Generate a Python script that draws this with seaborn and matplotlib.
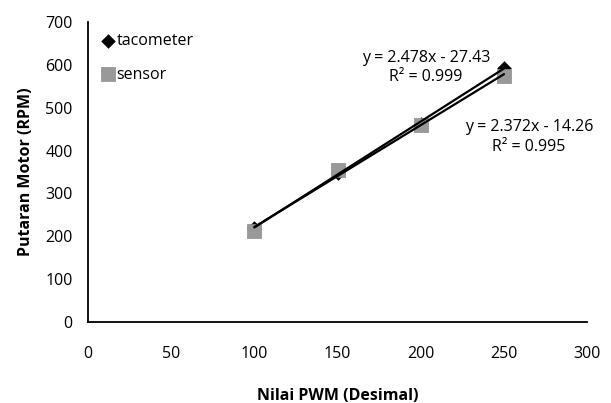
import matplotlib
matplotlib.use("Agg")
import matplotlib.pyplot as plt
import seaborn as sns
import pandas as pd

pwm = [100, 150, 200, 250]
tacometer = [220, 348, 463, 594]
sensor = [213, 354, 460, 574]
eq_taco = "y = 2.478x - 27.43\nR² = 0.999"
eq_sensor = "y = 2.372x - 14.26\nR² = 0.995"

sns.set_style("white")
plt.rcParams['font.family'] = ['Open Sans', 'DejaVu Sans']

df_t = pd.DataFrame({"pwm": pwm, "rpm": tacometer})
df_s = pd.DataFrame({"pwm": pwm, "rpm": sensor})

fig = plt.figure(figsize=(6.11, 4.03), dpi=100)
ax = fig.add_axes([0.144, 0.201, 0.817, 0.744])

sns.scatterplot(data=df_t, x="pwm", y="rpm", marker="D", s=55, color="black",
                edgecolor="black", linewidth=0, ax=ax, label="tacometer", zorder=2)
sns.scatterplot(data=df_s, x="pwm", y="rpm", marker="s", s=110, color="#999999",
                edgecolor="#8c8c8c", linewidth=0.5, ax=ax, label="sensor", zorder=3)
sns.regplot(data=df_t, x="pwm", y="rpm", scatter=False, ci=None, truncate=True,
            line_kws=dict(color="black", lw=1.6, zorder=4), ax=ax)
sns.regplot(data=df_s, x="pwm", y="rpm", scatter=False, ci=None, truncate=True,
            line_kws=dict(color="black", lw=1.6, zorder=4), ax=ax)

ax.set_xlim(0, 300)
ax.set_ylim(0, 700)
ax.set_xticks(range(0, 301, 50))
ax.set_yticks(range(0, 701, 100))
ax.tick_params(axis="x", direction="out", length=6, width=1.2, labelsize=11.5,
               color="black", labelcolor="black", pad=11)
ax.tick_params(axis="y", direction="out", length=6, width=1.2, labelsize=11.5,
               color="black", labelcolor="black", pad=5)
for s in ["top", "right"]:
    ax.spines[s].set_visible(False)
for s in ["left", "bottom"]:
    ax.spines[s].set_color("black")
    ax.spines[s].set_linewidth(1.3)

ax.set_xlabel("Nilai PWM (Desimal)", fontsize=11.5, fontweight="bold", labelpad=19,
              color="black")
ax.set_ylabel("Putaran Motor (RPM)", fontsize=11.5, fontweight="bold", labelpad=8,
              color="black")

ax.text(203, 594, eq_taco, ha="center", va="center", fontsize=11.5, linespacing=1.3,
        color="black")
ax.text(265, 432, eq_sensor, ha="center", va="center", fontsize=11.5, linespacing=1.3,
        color="black")

leg = ax.legend(loc="upper left", frameon=False, fontsize=11.5, handletextpad=0.0,
                labelspacing=1.1, borderaxespad=0.0, handlelength=1.0,
                bbox_to_anchor=(0.012, 0.985))
for t in leg.get_texts():
    t.set_color("black")

fig.savefig("out.png", dpi=100)
